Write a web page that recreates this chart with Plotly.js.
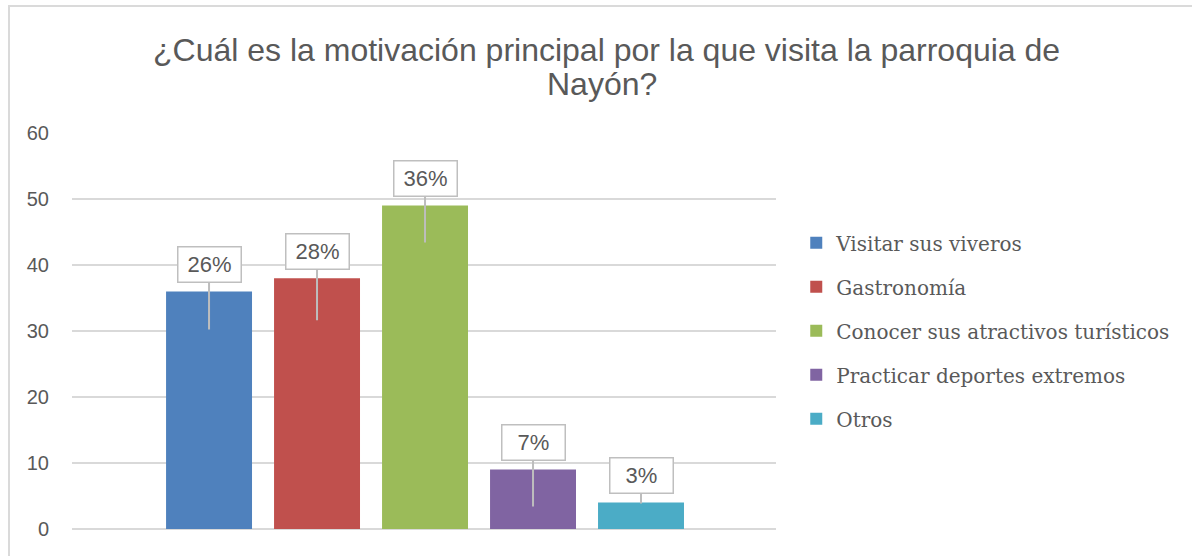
<!DOCTYPE html>
<html><head><meta charset="utf-8">
<script src="https://cdn.plot.ly/plotly-3.0.1.min.js"></script>
<style>
html,body{margin:0;padding:0;background:#fff;}
#wrap{position:relative;width:1192px;height:556px;overflow:hidden;}
#chart{position:absolute;left:0;top:0;width:1192px;height:556px;}
#frame{position:absolute;left:8px;top:5px;width:1300px;height:700px;border-left:2px solid #dadada;border-top:2px solid #dadada;pointer-events:none;}
</style></head>
<body><div id="wrap"><div id="chart"></div><div id="frame"></div></div>
<script>
const categories = ["Visitar sus viveros","Gastronomía","Conocer sus atractivos turísticos","Practicar deportes extremos","Otros"];
const values = [36, 38, 49, 9, 4];
const percentLabels = ["26%","28%","36%","7%","3%"];
const colors = ["#4F81BD","#C0504D","#9BBB59","#8064A2","#4BACC6"];
const titleLines = ["¿Cuál es la motivación principal por la que visita la parroquia de", "Nayón?"];

// callout styling (pixels)
const calloutDepth = [38, 42, 37, 37, 1];
const calloutGap = 27;

const W = 1192, H = 556, ml = 72, mr = 416, mt = 133, mb = 27, yMax = 60;
const plotW = W - ml - mr, plotH = H - mt - mb;
const pxPerUnit = plotH / yMax;
const px2paperX = px => (px - ml) / plotW;
const px2paperY = py => (H - mb - py) / plotH;

const traces = categories.map((c, i) => ({
  type: 'bar', x: [c], y: [values[i]], name: c,
  legendgroup: 'g' + i,
  marker: {color: colors[i]},
  hoverinfo: 'skip'
}));

const annotations = categories.map((c, i) => ({
  x: c, y: values[i] - calloutDepth[i] / pxPerUnit,
  xref: 'x', yref: 'y',
  text: percentLabels[i],
  showarrow: true, arrowhead: 0, arrowwidth: 2, arrowcolor: '#bdbdbd',
  ax: 0, ay: -(calloutGap + calloutDepth[i]),
  width: 54, height: 26,
  bgcolor: '#ffffff', bordercolor: '#bfbfbf', borderwidth: 1.5, borderpad: 4,
  font: {family: 'Liberation Sans, Arial, sans-serif', size: 22, color: '#595959'}
}));

const titleFont = {family: 'Liberation Sans, Arial, sans-serif', size: 32, color: '#595959'};
annotations.push({
  xref: 'paper', yref: 'paper', x: px2paperX(606), y: px2paperY(50),
  xanchor: 'center', yanchor: 'middle', showarrow: false,
  text: titleLines[0], font: titleFont
});
annotations.push({
  xref: 'paper', yref: 'paper', x: px2paperX(602), y: px2paperY(84),
  xanchor: 'center', yanchor: 'middle', showarrow: false,
  text: titleLines[1], font: titleFont
});

const layout = {
  width: W, height: H,
  margin: {l: ml, r: mr, t: mt, b: mb, pad: 0},
  paper_bgcolor: '#ffffff', plot_bgcolor: '#ffffff',
  barmode: 'overlay', bargap: 0.204,
  xaxis: {
    type: 'category', categoryorder: 'array', categoryarray: categories,
    range: [-1.269, 5.25], showticklabels: false, showgrid: false,
    zeroline: false, showline: false, ticks: '', fixedrange: true
  },
  yaxis: {
    range: [0, yMax], dtick: 10, showgrid: true, gridcolor: '#d9d9d9', gridwidth: 1.5,
    zeroline: true, zerolinecolor: '#d9d9d9', zerolinewidth: 1.5,
    showline: false, ticks: '', ticklabelstandoff: 22,
    tickfont: {family: 'Liberation Sans, Arial, sans-serif', size: 20, color: '#595959'}
  },
  showlegend: true,
  legend: {
    xref: 'container', yref: 'container',
    x: 0.668, xanchor: 'left', y: 0.405, yanchor: 'middle',
    tracegroupgap: 15,
    font: {family: 'DejaVu Serif, serif', size: 20, color: '#595959'},
    bgcolor: 'rgba(0,0,0,0)'
  },
  annotations: annotations
};

Plotly.newPlot('chart', traces, layout, {displayModeBar: false, staticPlot: true});
</script>
</body></html>
